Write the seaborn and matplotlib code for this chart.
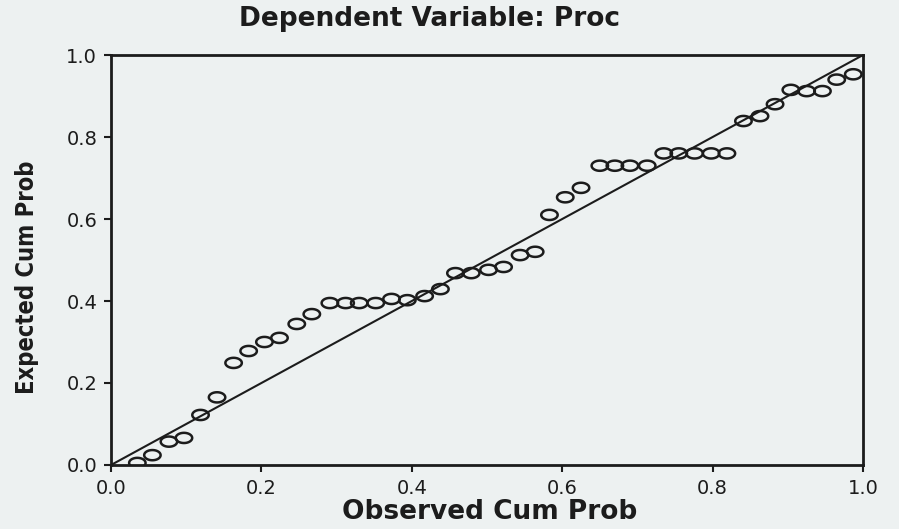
import numpy as np
import matplotlib
matplotlib.use("Agg")
import matplotlib.pyplot as plt
from matplotlib.path import Path
import seaborn as sns

# Normal P-P plot of regression standardized residuals
observed_cum_prob = [
    0.035, 0.055, 0.077, 0.097, 0.119, 0.141, 0.163, 0.183, 0.204, 0.224,
    0.247, 0.267, 0.291, 0.312, 0.330, 0.352, 0.373, 0.394, 0.417, 0.438,
    0.458, 0.479, 0.502, 0.522, 0.544, 0.564, 0.583, 0.604, 0.625, 0.650,
    0.670, 0.690, 0.713, 0.735, 0.755, 0.776, 0.798, 0.819, 0.841, 0.863,
    0.883, 0.904, 0.925, 0.946, 0.965, 0.987,
]
expected_cum_prob = [
    0.005, 0.024, 0.057, 0.066, 0.122, 0.165, 0.249, 0.278, 0.300, 0.310,
    0.344, 0.368, 0.395, 0.395, 0.395, 0.395, 0.405, 0.402, 0.412, 0.429,
    0.468, 0.468, 0.476, 0.483, 0.512, 0.520, 0.610, 0.653, 0.676, 0.730,
    0.730, 0.730, 0.730, 0.760, 0.760, 0.760, 0.760, 0.760, 0.839, 0.851,
    0.880, 0.915, 0.912, 0.912, 0.940, 0.953,
]
reference_line = [0.0, 1.0]
tick_values = [0.0, 0.2, 0.4, 0.6, 0.8, 1.0]
tick_labels = ["0.0", "0.2", "0.4", "0.6", "0.8", "1.0"]

paper = "#edf1f1"
ink = "#1c1c1c"

sns.set_theme(style="white")
plt.rcParams["font.family"] = ["DejaVu Sans"]

fig = plt.figure(figsize=(8.99, 5.29), dpi=100, facecolor=paper)
ax = fig.add_axes([0.1235, 0.121, 0.8365, 0.775], facecolor=paper)

# wide open ellipse marker
theta = np.linspace(0, 2 * np.pi, 60)
verts = np.column_stack([np.cos(theta), 0.62 * np.sin(theta)])
ellipse = Path(verts, closed=True)

sns.lineplot(x=reference_line, y=reference_line, ax=ax, color=ink, lw=1.5)
sns.scatterplot(x=observed_cum_prob, y=expected_cum_prob, ax=ax,
                marker=ellipse, s=140, facecolor="none",
                edgecolor=ink, linewidth=1.8, zorder=3)

ax.set_xlim(0, 1)
ax.set_ylim(0, 1)
ax.set_xticks(tick_values, tick_labels)
ax.set_yticks(tick_values, tick_labels)
ax.tick_params(axis="both", direction="out", length=5, width=1.5,
               colors=ink, labelsize=14, pad=5,
               bottom=True, left=True, top=False, right=False)
for side in ax.spines.values():
    side.set_color(ink)
    side.set_linewidth(2.0)

ax.set_xlabel("")
ax.set_ylabel("")
fig.text(0.478, 0.964, "Dependent Variable: Proc", ha="center", va="center",
         fontsize=19, fontweight="bold", color=ink)
fig.text(0.545, 0.032, "Observed Cum Prob", ha="center", va="center",
         fontsize=19, fontweight="bold", color=ink)
fig.text(0.030, 0.476, "Expected Cum Prob", ha="center", va="center",
         rotation=90, fontsize=17, fontweight="bold", fontstretch="condensed",
         color=ink)

fig.savefig("out.png", dpi=100, facecolor=paper)
